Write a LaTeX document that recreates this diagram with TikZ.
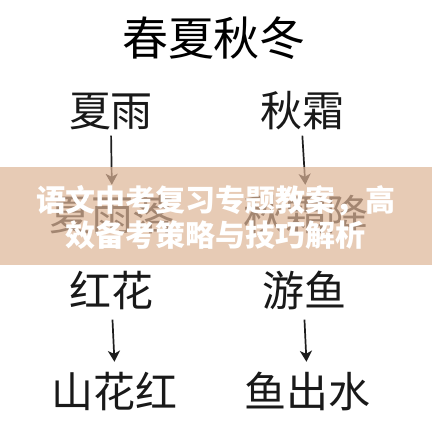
\documentclass[tikz,border=0pt]{standalone}
\usepackage{fontspec}
\usetikzlibrary{arrows.meta, positioning}

\newfontfamily\cjk{Noto Sans CJK SC}
\definecolor{bandpeach}{RGB}{222,181,151}
\definecolor{inkgray}{RGB}{30,30,30}

\begin{document}
\begin{tikzpicture}[
				x=1pt, y=1pt,
				>={Stealth[length=11pt, width=12pt, inset=3pt]},
				title/.style={
					font=\cjk\fontsize{46}{46}\selectfont,
					inner sep=0pt
				},
				word/.style={
					font=\cjk\fontsize{42}{42}\selectfont,
					text=black!90,
					inner sep=0pt,
					text height=34pt,
					text depth=3pt
				},
				link/.style={
					->,
					line width=1.7pt,
					draw=inkgray,
					shorten >=11.5pt
				},
				band/.style={
					fill=bandpeach,
					fill opacity=0.7,
					draw=none,
					inner sep=0pt,
					minimum width=432pt,
					minimum height=98pt
				},
				bandtext/.style={
					text=white,
					font=\cjk\bfseries\fontsize{30}{35}\selectfont,
					align=center,
					inner sep=0pt
				}
				]

				\fill[white] (0,0) rectangle (432,432);
				\useasboundingbox (0,0) rectangle (432,432);

				%------------------------------------------------
				% TITLE
				%------------------------------------------------

				\node[title] (season) at (214,394) {春夏秋冬};

				%------------------------------------------------
				% LEFT COLUMN
				%------------------------------------------------

				\node[word] (xiayu) at (111,321) {夏雨};

				\node[word] (xiayuluo) at (112,217) {夏雨落};

				\node[word] (honghua) at (112,141) {红花};

				\node[word] (shanhuahong) at (115,40) {山花红};

				%------------------------------------------------
				% RIGHT COLUMN
				%------------------------------------------------

				\node[word] (qiushuang) at (302,321) {秋霜};

				\node[word] (qiushuangjiang) at (306,217) {秋霜降};

				\node[word] (youyu) at (304,141) {游鱼};

				\node[word] (yuchushui) at (307,40) {鱼出水};

				%------------------------------------------------
				% ARROWS
				%------------------------------------------------

				\draw[link, shorten <=6pt]
				(xiayu.south) -- (xiayuluo.north);

				\draw[link, shorten <=6pt]
				(qiushuang.south) -- (qiushuangjiang.north);

				\draw[link, shorten <=10pt]
				(honghua.south) -- (shanhuahong.north);

				\draw[link, shorten <=10pt]
				(youyu.south) -- (yuchushui.north);

				%------------------------------------------------
				% BANNER
				%------------------------------------------------

				\node[band] (banner) at (216,216) {};

				\node[bandtext] (bannertext) at (216,215)
				{语文中考复习专题教案，高\\效备考策略与技巧解析};

\end{tikzpicture}
\end{document}
